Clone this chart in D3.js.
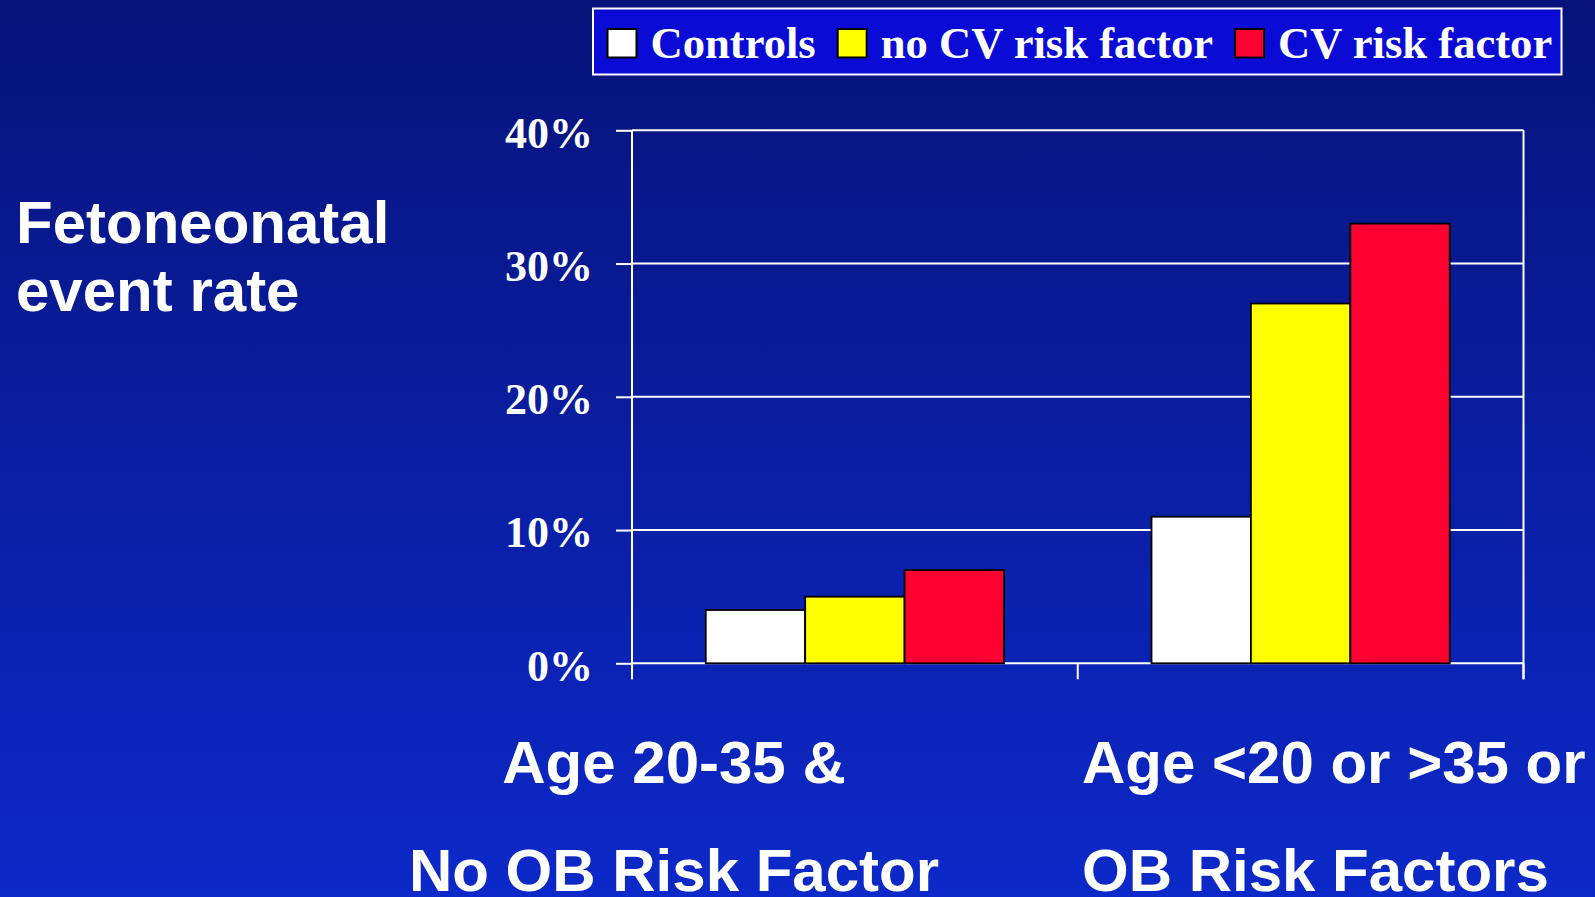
<!DOCTYPE html>
<html>
<head>
<meta charset="utf-8">
<script src="https://cdn.jsdelivr.net/npm/d3@7"></script>
<style>
  html, body { margin: 0; padding: 0; background: #0a1da1; overflow: hidden; }
  svg { display: block; }
</style>
</head>
<body>
<div id="chart"></div>
<script>
// Values
var groups = ["young", "older"];
var groupLines = [["Age 20-35 &", "No OB Risk Factor"], ["Age <20 or >35 or", "OB Risk Factors"]];
var seriesNames = ["Controls", "no CV risk factor", "CV risk factor"];
var seriesColors = ["#ffffff", "#ffff00", "#ff0030"];
var controls = [4, 11];
var noCvRisk = [5, 27];
var cvRisk = [7, 33];
var yTicks = [0, 10, 20, 30, 40];
var yTitle = ["Fetoneonatal", "event rate"];

var svgWidth = 1595;
var svgHeight = 897;

// plot area
var plot = { left: 632, right: 1523.5, top: 130.3, bottom: 663.3 };
var tickLen = 16;

var serif = "'Liberation Serif', 'Times New Roman', serif";
var sans = "'Liberation Sans', Arial, sans-serif";

var svg = d3.select("#chart")
    .append("svg")
    .attr("width", svgWidth)
    .attr("height", svgHeight);

// background gradient
var grad = svg.append("defs").append("linearGradient")
    .attr("id", "bg")
    .attr("x1", 0).attr("y1", 0).attr("x2", 0).attr("y2", 1);
grad.append("stop").attr("offset", "0%").attr("stop-color", "#07137a");
grad.append("stop").attr("offset", "100%").attr("stop-color", "#0c29c9");

svg.append("rect")
    .attr("width", svgWidth)
    .attr("height", svgHeight)
    .attr("fill", "url(#bg)");

var data = groups.map((g, i) => ({
    group: g,
    values: [controls[i], noCvRisk[i], cvRisk[i]]
}));

// scales
var x0 = d3.scaleBand()
    .domain(groups)
    .range([plot.left, plot.right]);

var x1 = d3.scaleBand()
    .domain(seriesNames)
    .range([0, x0.bandwidth()])
    .paddingInner(0)
    .paddingOuter(0.742);

var y = d3.scaleLinear()
    .domain([0, 40])
    .range([plot.bottom, plot.top]);

var color = d3.scaleOrdinal()
    .domain(seriesNames)
    .range(seriesColors);

// gridlines
svg.append("g")
    .selectAll("line")
    .data(yTicks)
    .join("line")
    .attr("x1", plot.left)
    .attr("x2", plot.right)
    .attr("y1", d => y(d))
    .attr("y2", d => y(d))
    .attr("stroke", "#ffffff")
    .attr("stroke-width", 2);

// bars
svg.append("g")
    .selectAll("g")
    .data(data)
    .join("g")
    .attr("transform", d => `translate(${x0(d.group)},0)`)
    .selectAll("rect")
    .data(d => d.values.map((v, i) => ({ key: seriesNames[i], value: v })))
    .join("rect")
    .attr("x", d => x1(d.key))
    .attr("y", d => y(d.value))
    .attr("width", x1.bandwidth())
    .attr("height", d => y(0) - y(d.value))
    .attr("fill", d => color(d.key))
    .attr("stroke", "#000000")
    .attr("stroke-width", 1.8);

// left axis
var leftAxis = d3.axisLeft(y)
    .tickValues(yTicks)
    .tickSize(tickLen)
    .tickPadding(23)
    .tickFormat(d => d + "%");

var yAxisG = svg.append("g")
    .attr("transform", `translate(${plot.left},0)`)
    .call(leftAxis);

yAxisG.select(".domain").remove();
yAxisG.selectAll(".tick line")
    .attr("stroke", "#ffffff")
    .attr("stroke-width", 2);
yAxisG.selectAll(".tick text")
    .attr("fill", "#ffffff")
    .attr("dy", "0.38em")
    .style("font-family", serif)
    .style("font-weight", "bold")
    .style("font-size", "44px");

// vertical frame lines
[plot.left, plot.right].forEach(xPos => {
    svg.append("line")
        .attr("x1", xPos).attr("x2", xPos)
        .attr("y1", plot.top).attr("y2", plot.bottom + tickLen)
        .attr("stroke", "#ffffff")
        .attr("stroke-width", 2);
});

// category ticks at band edges
var edgeTicks = groups.map(g => x0(g)).concat([x0.range()[1]]);
svg.append("g")
    .selectAll("line")
    .data(edgeTicks)
    .join("line")
    .attr("x1", d => d).attr("x2", d => d)
    .attr("y1", plot.bottom).attr("y2", plot.bottom + tickLen)
    .attr("stroke", "#ffffff")
    .attr("stroke-width", 2);

// category labels
var catLabelPos = [
    { x: 674, anchor: "middle" },
    { x: 1082, anchor: "start" }
];
var catBaselines = [783, 891];

groupLines.forEach((lines, i) => {
    svg.append("text")
        .attr("text-anchor", catLabelPos[i].anchor)
        .attr("fill", "#ffffff")
        .style("font-family", sans)
        .style("font-weight", "bold")
        .style("font-size", "60px")
        .selectAll("tspan")
        .data(lines)
        .join("tspan")
        .attr("x", catLabelPos[i].x)
        .attr("y", (d, j) => catBaselines[j])
        .text(d => d);
});

// y title
svg.append("text")
    .attr("fill", "#ffffff")
    .style("font-family", sans)
    .style("font-weight", "bold")
    .style("font-size", "60px")
    .selectAll("tspan")
    .data(yTitle)
    .join("tspan")
    .attr("x", 16)
    .attr("y", (d, i) => 243 + i * 68)
    .text(d => d);

// legend
var legend = svg.append("g");
legend.append("rect")
    .attr("x", 593)
    .attr("y", 8.5)
    .attr("width", 968.5)
    .attr("height", 66)
    .attr("fill", "#0a0cd6")
    .attr("stroke", "#ffffff")
    .attr("stroke-width", 2);

var legendX = 607.5;
var swatch = 29;
var legendBase = 57.5;
seriesNames.forEach((name, i) => {
    legend.append("rect")
        .attr("x", legendX)
        .attr("y", legendBase - 28.5)
        .attr("width", swatch)
        .attr("height", 28.5)
        .attr("fill", seriesColors[i])
        .attr("stroke", "#000000")
        .attr("stroke-width", 2);
    var t = legend.append("text")
        .attr("x", legendX + swatch + 14)
        .attr("y", legendBase)
        .attr("fill", "#ffffff")
        .style("font-family", serif)
        .style("font-weight", "bold")
        .style("font-size", "44.6px")
        .text(name);
    legendX += swatch + 14 + t.node().getComputedTextLength() + 22;
});
</script>
</body>
</html>
